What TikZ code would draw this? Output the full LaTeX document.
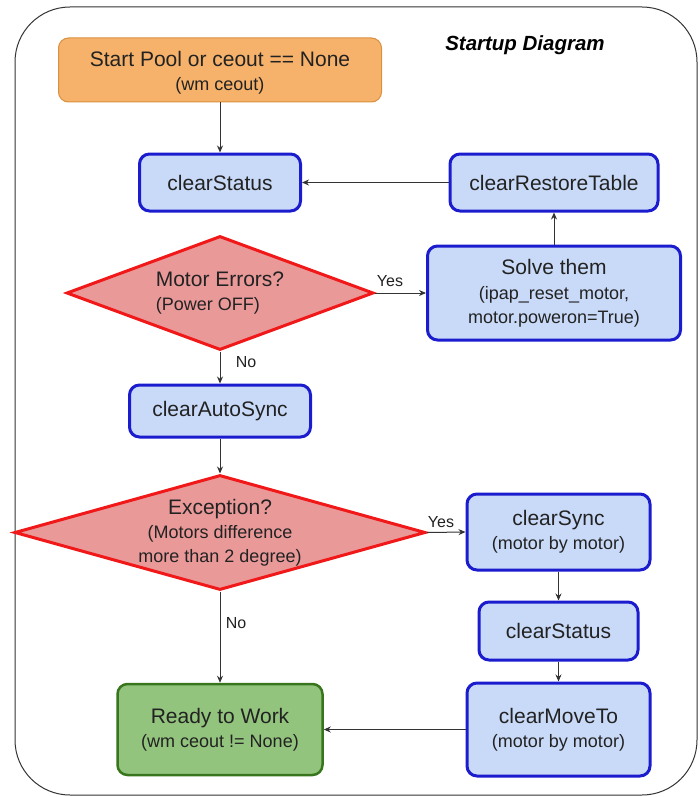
\documentclass[tikz,border=0pt]{standalone}
\usepackage{fontspec}
\setmainfont{Liberation Sans}
\usetikzlibrary{shapes.geometric,arrows.meta}
\definecolor{orfill}{HTML}{F6B26B}
\definecolor{ordraw}{HTML}{D9903F}
\definecolor{blfill}{HTML}{C9DAF8}
\definecolor{bldraw}{HTML}{1C1CCF}
\definecolor{rdfill}{HTML}{EA9999}
\definecolor{rddraw}{HTML}{F01818}
\definecolor{grfill}{HTML}{93C47D}
\definecolor{grdraw}{HTML}{38761D}
\definecolor{lncol}{HTML}{333333}
\definecolor{txtcol}{HTML}{222222}
\newcommand{\mainsz}{\fontsize{21}{24}\selectfont}
\newcommand{\subsz}{\fontsize{18}{20.5}\selectfont}
\begin{document}
\begin{tikzpicture}[x=1pt,y=-1pt,
  box/.style={rectangle, rounded corners=10pt, align=center, inner sep=0pt, text=txtcol, font=\mainsz},
  bluebox/.style={box, fill=blfill, draw=bldraw, line width=3pt},
  orbox/.style={box, fill=orfill, draw=ordraw, line width=1pt},
  grbox/.style={box, fill=grfill, draw=grdraw, line width=2.5pt},
  decide/.style={diamond, inner sep=0pt, fill=rdfill, draw=rddraw, line width=3pt, text=txtcol, font=\mainsz},
  arr/.style={draw=lncol, line width=1pt, -{Stealth[length=7pt,width=6pt]}},
  lab/.style={font=\fontsize{16}{18}\selectfont, inner sep=0pt, text=txtcol}
]
\useasboundingbox (0,0) rectangle (699,797);
\draw[line width=1pt, draw=lncol, rounded corners=55pt] (15,7) rectangle (697,795);

\node[font=\fontsize{20.5}{23}\selectfont\bfseries\itshape, text=black] (title) at (525,45) {Startup Diagram};

\node[orbox, minimum width=323pt, minimum height=64pt] (start) at (220,70) {};
\node[font=\mainsz, align=center, text=txtcol, inner sep=0pt] (starttxt) at (220,73)
  {Start Pool or ceout == None\\{\subsz (wm ceout)}};
\node[bluebox, minimum width=161pt, minimum height=57pt] (cs1) at (220,182.5) {clearStatus};
\node[bluebox, minimum width=208pt, minimum height=57pt] (crt) at (554,182.5) {clearRestoreTable};
\node[decide, shape aspect=2.69, minimum width=307pt, minimum height=114pt, align=left] (d1) at (220,293)
  {Motor Errors?\\{\subsz (Power OFF)}};
\node[bluebox, minimum width=253pt, minimum height=94pt] (solve) at (554,293)
  {Solve them\\[1pt]{\subsz (ipap\_reset\_motor,}\\{\subsz motor.poweron=True)}};
\node[bluebox, minimum width=181pt, minimum height=52pt] (cas) at (220,411) {clearAutoSync};
\node[decide, shape aspect=3.57, minimum width=411pt, minimum height=115pt, align=center] (d2) at (220,532.5)
  {Exception?\\{\subsz (Motors difference}\\{\subsz more than 2 degree)}};
\node[bluebox, minimum width=183pt, minimum height=76pt] (csync) at (558.5,532)
  {clearSync\\{\subsz (motor by motor)}};
\node[bluebox, minimum width=159pt, minimum height=58pt] (cs2) at (558.5,631) {clearStatus};
\node[grbox, minimum width=205pt, minimum height=91pt] (ready) at (220,729.5)
  {Ready to Work\\{\subsz (wm ceout != None)}};
\node[bluebox, minimum width=183pt, minimum height=93pt] (cmt) at (558.5,729.5)
  {clearMoveTo\\{\subsz (motor by motor)}};

\draw[arr] (start) -- (cs1);
\draw[arr] (crt) -- (cs1);
\draw[arr] (solve) -- (crt);
\draw[arr] (d1.east) -- (solve.west);
\draw[arr] (d1.south) -- (cas.north);
\draw[arr] (cas) -- (d2.north);
\draw[arr] (d2.east) -- (csync.west);
\draw[arr] (d2.south) -- (ready.north);
\draw[arr] (csync) -- (cs2);
\draw[arr] (cs2) -- (cmt);
\draw[arr] (cmt) -- (ready);

\node[lab] (y1) at (390,281) {Yes};
\node[lab] (n1) at (246,362) {No};
\node[lab] (y2) at (441,522) {Yes};
\node[lab] (n2) at (236,623) {No};
\end{tikzpicture}
\end{document}
